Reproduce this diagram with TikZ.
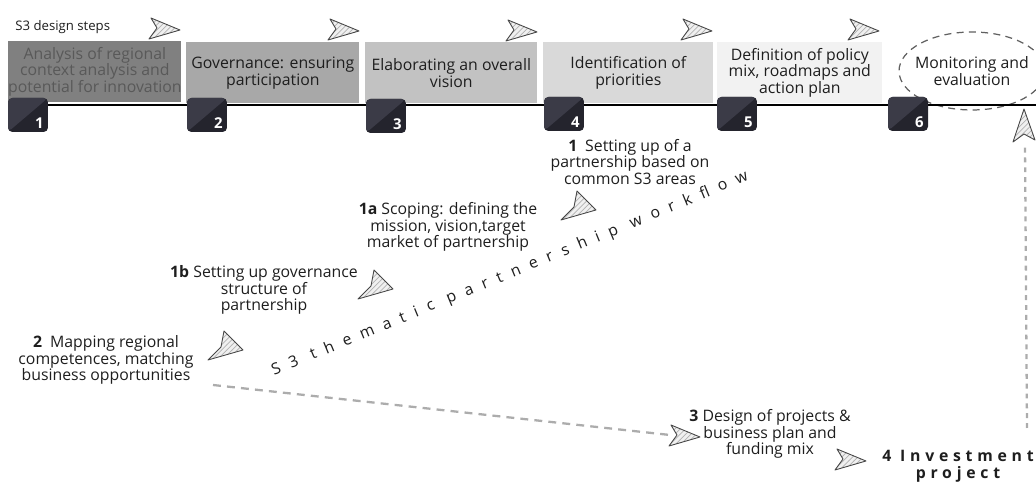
\documentclass[tikz,border=0pt]{standalone}
\usepackage{fontspec}
\setmainfont{Open Sans}
\usetikzlibrary{positioning,patterns,shapes.geometric}

\definecolor{boxA}{gray}{0.50}
\definecolor{boxB}{gray}{0.66}
\definecolor{boxC}{gray}{0.76}
\definecolor{boxD}{gray}{0.85}
\definecolor{boxE}{gray}{0.95}
\definecolor{sqdark}{HTML}{24242D}
\definecolor{sqlight}{HTML}{3B3B47}
\definecolor{ink}{HTML}{1E1E1E}
\definecolor{fadeink}{HTML}{595959}

\tikzset{
  stepbox/.style={anchor=north west, inner sep=0pt, minimum width=#1, minimum height=1.22cm},
  steptext/.style={align=center, inner sep=0pt, text=ink, font=\fontsize{9}{9.4}\selectfont},
  numsq/.style={inner sep=0pt, minimum width=0.8cm, minimum height=0.68cm, rounded corners=2.5pt, fill=sqdark,
    path picture={\fill[sqlight] (path picture bounding box.north west) -- (path picture bounding box.north east)
      -- (path picture bounding box.south west) -- cycle;}},
  numlbl/.style={inner sep=0pt, text=white, font=\bfseries\fontsize{8.5}{8.5}\selectfont},
  timeline/.style={draw=black, line width=1.2pt},
  monitor/.style={ellipse, draw=gray!75!black, line width=0.7pt, dash pattern=on 4pt off 3pt,
    minimum width=2.92cm, minimum height=1.56cm, inner sep=0pt},
  dart/.style={draw=gray!55!black, line width=0.5pt, line join=round, preaction={fill=gray!12},
    pattern=north east lines, pattern color=gray!60},
  flowdash/.style={draw=gray!65, line width=1.3pt, dash pattern=on 4.5pt off 3.5pt},
  updash/.style={draw=gray!65, line width=1.3pt, dash pattern=on 2.8pt off 2.8pt},
  flowtext/.style={inner sep=0pt, text=ink, font=\fontsize{9}{9}\selectfont\addfontfeature{LetterSpace=62}},
  invest/.style={align=center, inner sep=0pt, text=ink, font=\bfseries\fontsize{9}{9.6}\selectfont\addfontfeature{LetterSpace=30}},
  dartright/.pic={\path[dart] (15,1) -- (-14,-11) -- (-8,-1) -- (-16,10) -- cycle;},
  dartslant/.pic={\path[dart] (17,4) -- (-2,-15) -- (-5,1) -- (-18,14) -- cycle;},
  dartup/.pic={\path[dart] (0,-17) -- (-11,16) -- (0,8) -- (11,14) -- cycle;}
}

\begin{document}
\begin{tikzpicture}[x=0.02cm, y=-0.02cm]
  \useasboundingbox (0,0) rectangle (1036,482);
  \clip (0,0) rectangle (1036,482);

  % design steps along the top
  \node[anchor=west, inner sep=0pt, text=ink, font=\fontsize{7.5}{8}\selectfont] (design) at (15,27) {S3 design steps};
  \pic at (165,29) {dartright};
  \pic at (344,30) {dartright};
  \pic at (522,31) {dartright};
  \pic at (697,30) {dartright};
  \pic at (864,30) {dartright};

  \node[stepbox=3.46cm, fill=boxA] (b1) at (8,41) {};
  \node[stepbox=3.46cm, fill=boxB] (b2) at (186,42) {};
  \node[stepbox=3.44cm, fill=boxC] (b3) at (365,42) {};
  \node[stepbox=3.40cm, fill=boxD] (b4) at (543,42) {};
  \node[stepbox=3.30cm, fill=boxE] (b5) at (717,42) {};
  \node[steptext, text=fadeink] (t1) at (b1.center) {Analysis of regional\\context analysis and\\potential for innovation};
  \node[steptext] (t2) at (b2.center) {Governance: ensuring\\participation};
  \node[steptext] (t3) at (b3.center) {Elaborating an overall\\vision};
  \node[steptext] (t4) at (b4.center) {Identification of\\priorities};
  \node[steptext] (t5) at (b5.center) {Definition of policy\\mix, roadmaps and\\action plan};
  \node[monitor] (mon) at (972,71) {};
  \node[steptext] (t6) at (mon.center) {Monitoring and\\evaluation};

  \coordinate (tl0) at (8,105);
  \coordinate (tl1) at (1036,105);
  \draw[timeline] (tl0) -- (tl1);

  \node[numsq] (n1) at (28,115) {};
  \node[numsq] (n2) at (207,115) {};
  \node[numsq] (n3) at (386,116) {};
  \node[numsq] (n4) at (564,114) {};
  \node[numsq] (n5) at (737,114) {};
  \node[numsq] (n6) at (908,114) {};
  \node[numlbl, above left=2pt and 2.5pt of n1.south east] (l1) {1};
  \node[numlbl, above left=2pt and 2.5pt of n2.south east] (l2) {2};
  \node[numlbl, above left=2pt and 2.5pt of n3.south east] (l3) {3};
  \node[numlbl, above left=2pt and 2.5pt of n4.south east] (l4) {4};
  \node[numlbl, above left=2pt and 2.5pt of n5.south east] (l5) {5};
  \node[numlbl, above left=2pt and 2.5pt of n6.south east] (l6) {6};

  % thematic partnership workflow
  \node[steptext] (w1) at (630,162) {\textbf{1}\enspace Setting up of a\\partnership based on\\common S3 areas};
  \node[steptext] (w1a) at (448,227) {\textbf{1a} Scoping: defining the\\mission, vision,target\\market of partnership};
  \node[steptext] (w1b) at (264,290) {\textbf{1b} Setting up governance\\structure of\\partnership};
  \node[steptext] (w2) at (106,360) {\textbf{2}\enspace Mapping regional\\competences, matching\\business opportunities};
  \node[steptext] (w3) at (770,434) {\textbf{3} Design of projects \&\\business plan and\\funding mix};
  \node[invest] (w4) at (958,466) {4 Investment\\project};
  \pic at (579,206) {dartslant};
  \pic at (376,285) {dartslant};
  \pic at (226,346) {dartslant};
  \pic at (685,436) {dartright};
  \pic at (851,460) {dartright};
  \pic at (1024,126) {dartup};
  \node[flowtext, rotate=22.4] (flow) at (510,274) {S3 thematic partnership workflow};

  \coordinate (mapEnd) at (213,385);
  \coordinate (designIn) at (670,435);
  \draw[flowdash] (mapEnd) -- (designIn);
  \coordinate (investUp) at (1027,428);
  \coordinate (monIn) at (1025,144);
  \draw[updash] (investUp) -- (monIn);
\end{tikzpicture}
\end{document}
